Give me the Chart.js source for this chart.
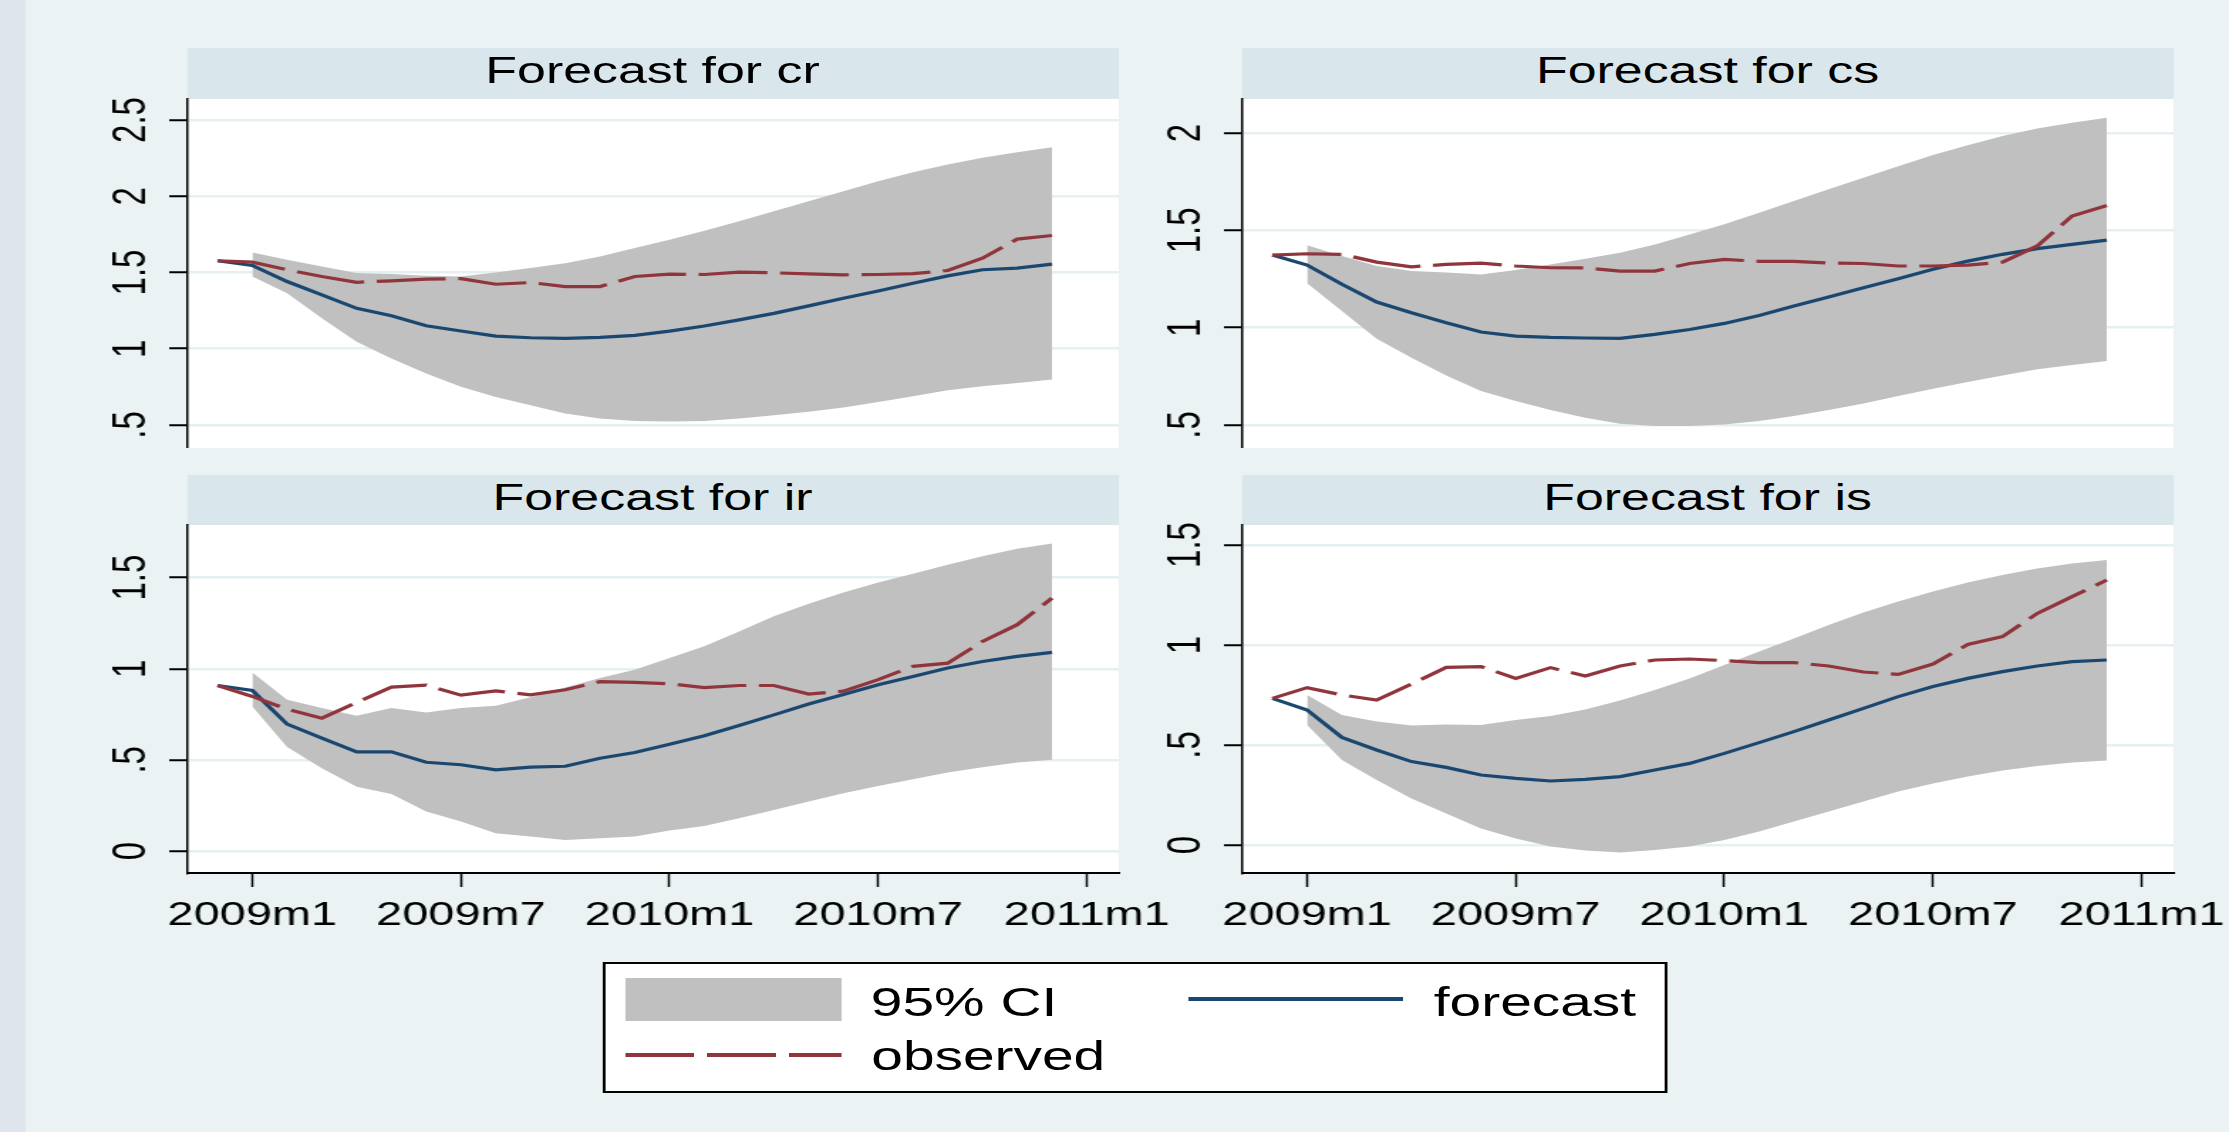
<!DOCTYPE html>
<html>
<head>
<meta charset="utf-8">
<title>Forecast for cr, cs, ir, is</title>
<script src="https://cdn.jsdelivr.net/npm/chart.js@4.4.1/dist/chart.umd.min.js"></script>
<style>
  html, body { margin: 0; padding: 0; }
  body { width: 2229px; height: 1132px; background: #eaf2f3; overflow: hidden; position: relative;
         font-family: "Liberation Sans", Arial, sans-serif; }
  /* the original graph is stretched sideways, so the whole page is drawn narrow and widened */
  #stage { position: absolute; left: 0; top: 0; width: 1568px; height: 1132px;
           transform: scaleX(1.421556); transform-origin: 0 0; }
  .edge { position: absolute; left: 0; top: 0; width: 17.6px; height: 1132px; background: #dfe5ec; }
  .strip { position: absolute; background: #d9e6eb; color: #000; font-size: 36.5px;
           text-align: center; line-height: 45px; white-space: nowrap; }
  canvas { position: absolute; }
  .lg { position: absolute; }
  .lgtext { position: absolute; font-size: 40px; line-height: 40px; color: #000; white-space: nowrap; }
</style>
</head>
<body>
<div id="stage">
  <div class="edge"></div>
  <div class="lg" style="left:424.2px; top:962px; width:748.4px; height:131px; background:#fff; border:2px solid #000; box-sizing:border-box;"></div>
  <div class="lg" style="left:440.4px; top:978px; width:151.2px; height:43px; background:#c0c0c0;"></div>
  <div class="lgtext" style="left:612.6px; top:981.6px;">95% CI</div>
  <div class="lg" style="left:836.4px; top:997px; width:150.6px; height:4px; background:#1a476f;"></div>
  <div class="lgtext" style="left:1008.6px; top:981.6px;">forecast</div>
  <div class="lg" style="left:440.4px; top:1053px; width:151.2px; height:4px;
       background: repeating-linear-gradient(to right, #90353b 0 48.5px, transparent 48.5px 57.4px);"></div>
  <div class="lgtext" style="left:612.9px; top:1036px;">observed</div>
</div>
<script>
// months of the series, 2008m12 is the last observed month before the forecast
const months = ['2008m12', '2009m1', '2009m2', '2009m3', '2009m4', '2009m5', '2009m6', '2009m7',
  '2009m8', '2009m9', '2009m10', '2009m11', '2009m12', '2010m1', '2010m2', '2010m3', '2010m4',
  '2010m5', '2010m6', '2010m7', '2010m8', '2010m9', '2010m10', '2010m11', '2010m12'];

const xTicks = [0, 6, 12, 18, 24];
const xTickLabels = ['2009m1', '2009m7', '2010m1', '2010m7', '2011m1'];

// cr
const crObserved = [1.577, 1.568, 1.518, 1.474, 1.436, 1.445, 1.456, 1.460, 1.423, 1.434, 1.408, 1.408,
  1.474, 1.489, 1.487, 1.502, 1.498, 1.491, 1.485, 1.487, 1.493, 1.513, 1.594, 1.719, 1.743];
const crForecast = [1.577, 1.546, 1.441, 1.353, 1.265, 1.217, 1.151, 1.116, 1.083, 1.072, 1.068, 1.075,
  1.088, 1.116, 1.149, 1.189, 1.232, 1.281, 1.331, 1.379, 1.430, 1.478, 1.518, 1.529, 1.555];
const crUpper = [null, 1.632, 1.583, 1.539, 1.496, 1.491, 1.478, 1.474, 1.500, 1.529, 1.561, 1.605,
  1.660, 1.715, 1.774, 1.836, 1.901, 1.967, 2.033, 2.099, 2.158, 2.208, 2.252, 2.289, 2.322];
const crLower = [null, 1.474, 1.364, 1.200, 1.046, 0.936, 0.838, 0.750, 0.684, 0.629, 0.575, 0.542,
  0.526, 0.522, 0.526, 0.542, 0.564, 0.586, 0.614, 0.651, 0.689, 0.728, 0.754, 0.776, 0.798];
const crTicks = [0.5, 1, 1.5, 2, 2.5];
const crTickLabels = ['.5', '1', '1.5', '2', '2.5'];

// cs
const csObserved = [1.373, 1.380, 1.377, 1.337, 1.313, 1.325, 1.332, 1.317, 1.308, 1.307, 1.291, 1.291,
  1.330, 1.351, 1.341, 1.341, 1.332, 1.330, 1.317, 1.317, 1.322, 1.337, 1.420, 1.574, 1.628];
const csForecast = [1.373, 1.322, 1.223, 1.132, 1.077, 1.026, 0.978, 0.957, 0.950, 0.947, 0.945, 0.966,
  0.991, 1.022, 1.063, 1.111, 1.158, 1.205, 1.252, 1.300, 1.342, 1.377, 1.406, 1.428, 1.450];
const csUpper = [null, 1.423, 1.368, 1.317, 1.291, 1.283, 1.274, 1.296, 1.325, 1.354, 1.385, 1.428,
  1.479, 1.531, 1.591, 1.651, 1.711, 1.771, 1.830, 1.887, 1.938, 1.985, 2.024, 2.053, 2.079];
const csLower = [null, 1.228, 1.086, 0.943, 0.846, 0.755, 0.675, 0.623, 0.577, 0.538, 0.507, 0.495,
  0.495, 0.503, 0.521, 0.546, 0.577, 0.611, 0.649, 0.687, 0.721, 0.755, 0.786, 0.808, 0.829];
const csTicks = [0.5, 1, 1.5, 2];
const csTickLabels = ['.5', '1', '1.5', '2'];

// ir
const irObserved = [0.908, 0.848, 0.778, 0.729, 0.815, 0.899, 0.910, 0.855, 0.879, 0.857, 0.885, 0.929,
  0.925, 0.918, 0.897, 0.908, 0.908, 0.861, 0.877, 0.940, 1.013, 1.031, 1.150, 1.242, 1.388];
const irForecast = [0.908, 0.881, 0.696, 0.619, 0.544, 0.544, 0.487, 0.473, 0.445, 0.460, 0.465, 0.509,
  0.540, 0.586, 0.632, 0.689, 0.747, 0.806, 0.859, 0.912, 0.958, 1.004, 1.040, 1.068, 1.090];
const irUpper = [null, 0.980, 0.830, 0.784, 0.742, 0.784, 0.760, 0.784, 0.797, 0.844, 0.897, 0.949,
  0.995, 1.059, 1.123, 1.205, 1.288, 1.357, 1.419, 1.474, 1.522, 1.571, 1.617, 1.658, 1.687];
const irLower = [null, 0.793, 0.570, 0.454, 0.353, 0.313, 0.216, 0.161, 0.097, 0.079, 0.060, 0.070,
  0.079, 0.112, 0.137, 0.179, 0.225, 0.271, 0.317, 0.357, 0.394, 0.430, 0.460, 0.485, 0.500];
const irTicks = [0, 0.5, 1, 1.5];
const irTickLabels = ['0', '.5', '1', '1.5'];

// is
const isObserved = [0.733, 0.787, 0.750, 0.725, 0.805, 0.888, 0.892, 0.833, 0.887, 0.845, 0.895, 0.925,
  0.930, 0.922, 0.912, 0.912, 0.895, 0.865, 0.853, 0.905, 1.003, 1.042, 1.158, 1.242, 1.325];
const isForecast = [0.733, 0.675, 0.538, 0.475, 0.417, 0.388, 0.350, 0.333, 0.320, 0.328, 0.342, 0.375,
  0.408, 0.458, 0.512, 0.567, 0.625, 0.683, 0.742, 0.792, 0.833, 0.867, 0.895, 0.917, 0.925];
const isUpper = [null, 0.750, 0.650, 0.617, 0.597, 0.603, 0.600, 0.625, 0.645, 0.678, 0.722, 0.775,
  0.833, 0.900, 0.967, 1.033, 1.100, 1.162, 1.217, 1.267, 1.312, 1.350, 1.383, 1.408, 1.425];
const isLower = [null, 0.600, 0.425, 0.325, 0.233, 0.158, 0.083, 0.033, -0.008, -0.028, -0.038, -0.025,
  -0.008, 0.025, 0.067, 0.117, 0.167, 0.217, 0.267, 0.308, 0.342, 0.372, 0.395, 0.412, 0.422];
const isTicks = [0, 0.5, 1, 1.5];
const isTickLabels = ['0', '.5', '1', '1.5'];

const FONT = '"Liberation Sans", Arial, sans-serif';

// months since 2009m1
function monthIndex(label) {
  const [y, m] = label.split('m').map(Number);
  return (y - 2009) * 12 + m - 1;
}

function points(values) {
  return months.map((m, i) => ({ x: monthIndex(m), y: values[i] })).filter(p => p.y !== null);
}

const panels = [
  { name: 'cr', left: 51.55, top: 99, plotH: 349, stripTop: 48, stripH: 51, xAxis: false,
    min: 0.349, max: 2.638, ticks: crTicks, labels: crTickLabels,
    obs: crObserved, fc: crForecast, up: crUpper, lo: crLower },
  { name: 'cs', left: 793.7, top: 99, plotH: 349, stripTop: 48, stripH: 51, xAxis: false,
    min: 0.382, max: 2.175, ticks: csTicks, labels: csTickLabels,
    obs: csObserved, fc: csForecast, up: csUpper, lo: csLower },
  { name: 'ir', left: 51.55, top: 525, plotH: 348, stripTop: 475, stripH: 50, xAxis: true,
    min: -0.121, max: 1.789, ticks: irTicks, labels: irTickLabels,
    obs: irObserved, fc: irForecast, up: irUpper, lo: irLower },
  { name: 'is', left: 793.7, top: 525, plotH: 348, stripTop: 475, stripH: 50, xAxis: true,
    min: -0.14, max: 1.6, ticks: isTicks, labels: isTickLabels,
    obs: isObserved, fc: isForecast, up: isUpper, lo: isLower }
];

const Y_W = 80, PAD_R = 50, PAD_T = 30, PLOT_W = 655, X_H = 80;

// white plot region under the grid
const plotBackground = {
  id: 'plotBackground',
  beforeDraw(chart) {
    const a = chart.chartArea, ctx = chart.ctx;
    ctx.save();
    ctx.fillStyle = '#ffffff';
    ctx.fillRect(a.left, a.top, a.right - a.left, a.bottom - a.top);
    ctx.restore();
  }
};

// y tick labels turned to read upwards, as Stata does
const yLabels = {
  id: 'yLabels',
  afterDraw(chart, args, opts) {
    const s = chart.scales.y, ctx = chart.ctx;
    ctx.save();
    ctx.font = '33px ' + FONT;
    ctx.fillStyle = '#000';
    ctx.textAlign = 'center';
    ctx.textBaseline = 'middle';
    s.ticks.forEach((t, i) => {
      const y = s.getPixelForValue(t.value);
      ctx.save();
      ctx.translate(s.right - 39, y);
      ctx.rotate(-Math.PI / 2);
      ctx.fillText(opts.labels[i], 0, 0);
      ctx.restore();
    });
    ctx.restore();
  }
};

const stage = document.getElementById('stage');

panels.forEach(p => {
  const strip = document.createElement('div');
  strip.className = 'strip';
  strip.style.left = (p.left + Y_W) + 'px';
  strip.style.top = p.stripTop + 'px';
  strip.style.width = PLOT_W + 'px';
  strip.style.height = p.stripH + 'px';
  strip.textContent = 'Forecast for ' + p.name;
  stage.appendChild(strip);

  const canvas = document.createElement('canvas');
  canvas.width = Y_W + PLOT_W + PAD_R;
  canvas.height = PAD_T + p.plotH + (p.xAxis ? X_H : 0);
  canvas.style.left = p.left + 'px';
  canvas.style.top = (p.top - PAD_T) + 'px';
  stage.appendChild(canvas);

  new Chart(canvas.getContext('2d'), {
    type: 'line',
    data: {
      datasets: [
        { label: 'observed', data: points(p.obs), borderColor: '#90353b', borderWidth: 3.2,
          borderDash: [48.5, 8.9], pointRadius: 0, fill: false, tension: 0 },
        { label: 'forecast', data: points(p.fc), borderColor: '#1a476f', borderWidth: 3.2,
          pointRadius: 0, fill: false, tension: 0 },
        { label: '95% CI', data: points(p.up), borderWidth: 0, pointRadius: 0,
          backgroundColor: '#c0c0c0', fill: '+1', tension: 0 },
        { label: 'lower', data: points(p.lo), borderWidth: 0, pointRadius: 0, fill: false, tension: 0 }
      ]
    },
    options: {
      responsive: false,
      animation: false,
      events: [],
      layout: { padding: { left: 0, right: PAD_R, top: PAD_T, bottom: 0 } },
      plugins: {
        legend: { display: false },
        tooltip: { enabled: false },
        yLabels: { labels: p.labels }
      },
      scales: {
        x: {
          type: 'linear',
          min: -1.86,
          max: 24.92,
          display: p.xAxis,
          afterBuildTicks: s => { s.ticks = xTicks.map(v => ({ value: v })); },
          afterFit: s => { s.height = p.xAxis ? X_H : 0; },
          grid: { drawOnChartArea: false, drawTicks: true, tickLength: 14, tickWidth: 1.5, tickColor: '#000' },
          border: { display: true, color: '#000', width: 2 },
          ticks: {
            autoSkip: false, maxRotation: 0, minRotation: 0, padding: 9, color: '#000',
            font: { family: FONT, size: 33 },
            callback: v => xTickLabels[xTicks.indexOf(v)]
          }
        },
        y: {
          type: 'linear',
          min: p.min,
          max: p.max,
          afterBuildTicks: s => { s.ticks = p.ticks.map(v => ({ value: v })); },
          afterFit: s => { s.width = Y_W; },
          grid: { color: '#e6eff1', lineWidth: 2.5, drawTicks: true, tickLength: 13, tickWidth: 2, tickColor: '#000' },
          border: { display: true, color: '#000', width: 1.5 },
          ticks: { display: false }
        }
      }
    },
    plugins: [plotBackground, yLabels]
  });
});
</script>
</body>
</html>
